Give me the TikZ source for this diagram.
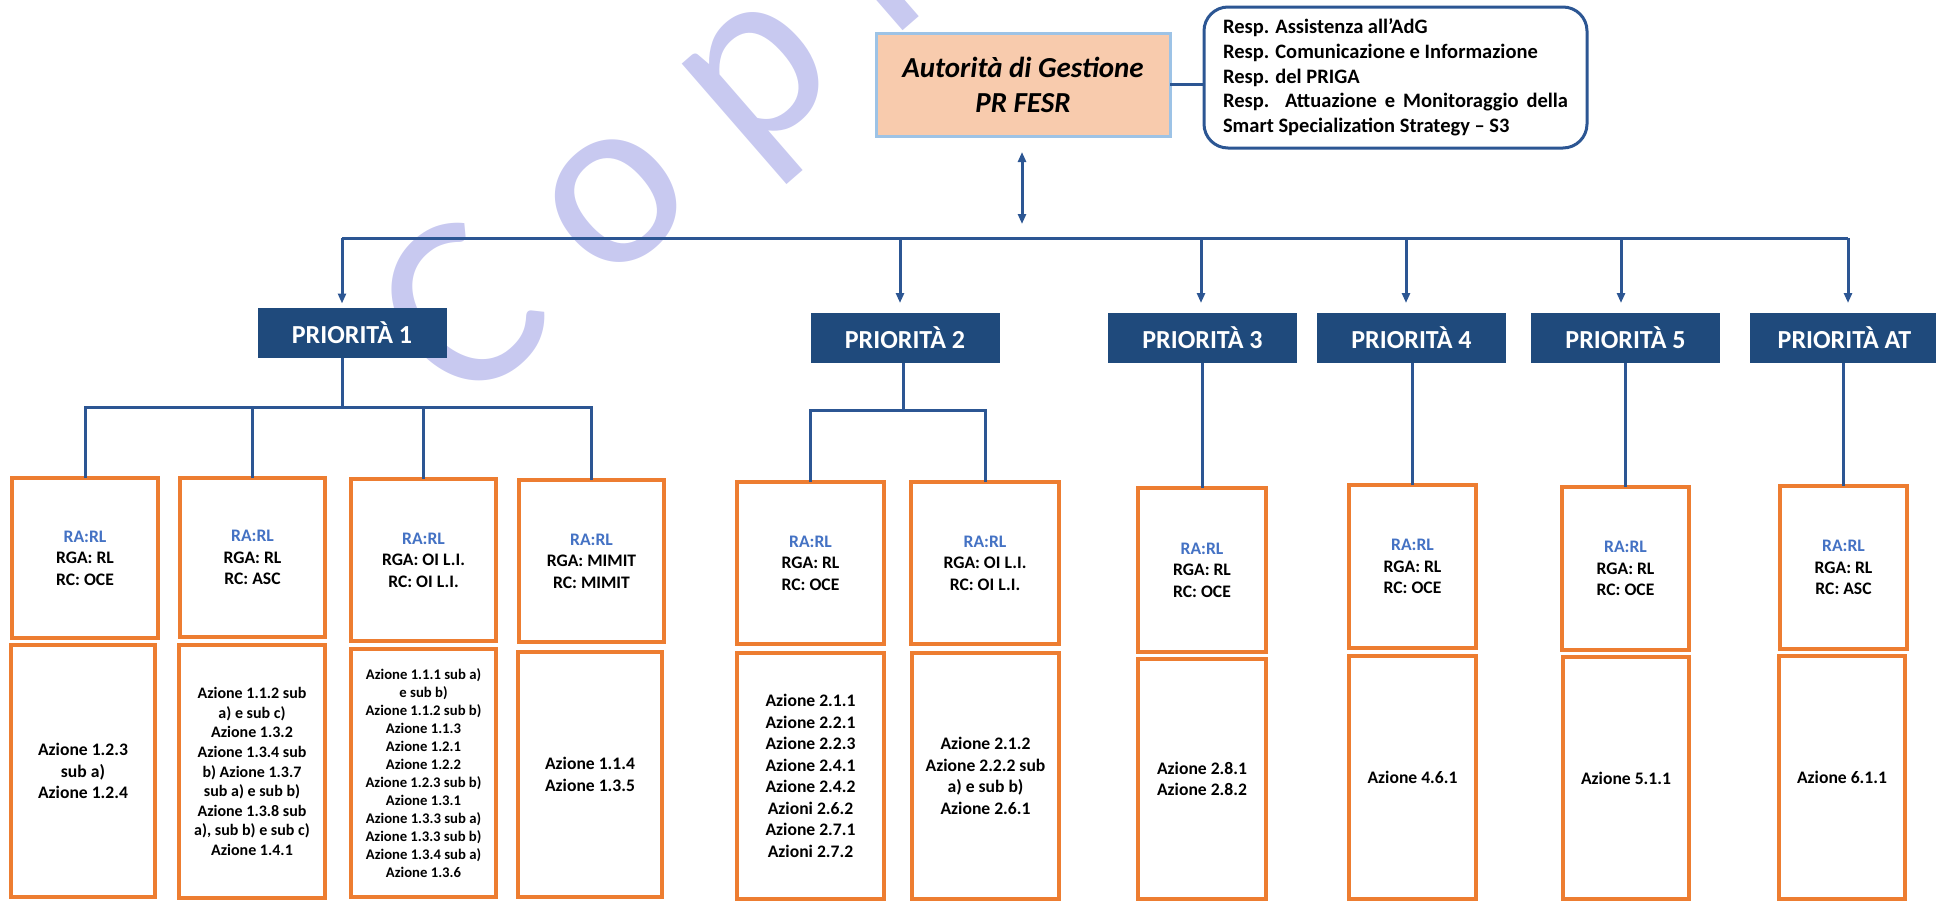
\documentclass[tikz,border=0pt]{standalone}
\usepackage{fontspec}
\setmainfont{Carlito}
\usetikzlibrary{arrows.meta}
\definecolor{navy}{HTML}{1F4A7C}
\definecolor{linkblue}{HTML}{2C5693}
\definecolor{orangeb}{HTML}{ED7D31}
\definecolor{peach}{HTML}{F8CBAD}
\definecolor{lightb}{HTML}{9DC3E6}
\definecolor{rablue}{HTML}{4472C4}
\definecolor{wm}{HTML}{C8C9F0}
\begin{document}
\begin{tikzpicture}[x=1pt,y=-1pt,
  conn/.style={draw=linkblue, line width=3pt},
  arr/.style={conn, -{Triangle[length=10pt,width=8pt]}},
  dblarr/.style={conn, {Triangle[length=10pt,width=8pt]}-{Triangle[length=10pt,width=8pt]}},
  prio/.style={fill=navy, text=white, font=\bfseries\fontsize{26}{30}\selectfont, minimum width=189pt, minimum height=50pt, inner sep=0pt, outer sep=0pt},
  obox/.style={draw=orangeb, line width=4pt, fill=white, align=center, inner sep=0pt, outer sep=0pt},
  ufont/.style={font=\bfseries\fontsize{17.6}{21.5}\selectfont},
  lfont/.style={font=\bfseries\fontsize{17.6}{21.5}\selectfont},
  mfont/.style={font=\bfseries\fontsize{16}{19.6}\selectfont},
  sfont/.style={font=\bfseries\fontsize{14.7}{18}\selectfont}
]
\useasboundingbox (0,0) rectangle (1936,902);

% watermark
\node[rotate=41, text=wm, font=\fontsize{250}{250}\selectfont, anchor=base west, inner sep=0pt] (wmk) at (462,414) {C o p i a};

% top
\node[fill=peach, draw=lightb, line width=3pt, minimum width=294pt, minimum height=103pt, inner sep=0pt, outer sep=0pt, align=center, font=\bfseries\itshape\fontsize{29}{35}\selectfont] (ag) at (1023,84.5) {Autorità di Gestione\\PR FESR};
\node[draw=linkblue, line width=3pt, rounded corners=24pt, minimum width=383pt, minimum height=141pt, inner sep=0pt, outer sep=0pt, font=\bfseries\fontsize{20.5}{24.75}\selectfont] (resp) at (1395.5,77.5) {\parbox{345pt}{\raggedright Resp. Assistenza all’AdG\\Resp. Comunicazione e Informazione\\Resp. del PRIGA\\\makebox[345pt][s]{Resp. Attuazione e Monitoraggio della}\\Smart Specialization Strategy – S3}};
\draw[conn] (ag.east) -- (ag.east -| resp.west);

\coordinate (dt) at (1022,152);
\coordinate (db) at (1022,224);
\draw[dblarr] (dt) -- (db);

% priority boxes
\node[prio] (p1) at (352,332.5) {PRIORITÀ 1};
\node[prio] (p2) at (905,338) {PRIORITÀ 2};
\node[prio] (p3) at (1202.5,338) {PRIORITÀ 3};
\node[prio] (p4) at (1411.5,338) {PRIORITÀ 4};
\node[prio] (p5) at (1625.5,338) {PRIORITÀ 5};
\node[prio] (pat) at (1844.5,338) {PRIORITÀ AT};

% bus
\coordinate (bl) at (342,238);
\coordinate (b2) at (900,238);
\coordinate (b3) at (1201,238);
\coordinate (b4) at (1406,238);
\coordinate (b5) at (1621,238);
\coordinate (br) at (1848,238);
\draw[conn] (bl) -- (br);
\draw[arr, shorten >=4pt] (bl) -- (bl |- p1.north);
\draw[arr, shorten >=10pt] (b2) -- (b2 |- p2.north);
\draw[arr, shorten >=10pt] (b3) -- (b3 |- p3.north);
\draw[arr, shorten >=10pt] (b4) -- (b4 |- p4.north);
\draw[arr, shorten >=10pt] (b5) -- (b5 |- p5.north);
\draw[arr, shorten >=10pt] (br) -- (br |- pat.north);

% upper boxes
\node[obox, ufont, minimum width=146pt, minimum height=160pt] (u1) at (85,558) {{\color{rablue}RA:RL}\\RGA: RL\\RC: OCE};
\node[obox, ufont, minimum width=145pt, minimum height=159pt] (u2) at (252.5,557.5) {{\color{rablue}RA:RL}\\RGA: RL\\RC: ASC};
\node[obox, ufont, minimum width=145pt, minimum height=162pt] (u3) at (423.5,560) {{\color{rablue}RA:RL}\\RGA: OI L.I.\\RC: OI L.I.};
\node[obox, ufont, minimum width=145pt, minimum height=162pt] (u4) at (591.5,561) {{\color{rablue}RA:RL}\\RGA: MIMIT\\RC: MIMIT};
\node[obox, ufont, minimum width=147pt, minimum height=162pt] (u5) at (810.5,563) {{\color{rablue}RA:RL}\\RGA: RL\\RC: OCE};
\node[obox, ufont, minimum width=148pt, minimum height=162pt] (u6) at (985,563) {{\color{rablue}RA:RL}\\RGA: OI L.I.\\RC: OI L.I.};
\node[obox, ufont, minimum width=128pt, minimum height=164pt] (u7) at (1202,570) {{\color{rablue}RA:RL}\\RGA: RL\\RC: OCE};
\node[obox, ufont, minimum width=127pt, minimum height=163pt] (u8) at (1412.5,566.5) {{\color{rablue}RA:RL}\\RGA: RL\\RC: OCE};
\node[obox, ufont, minimum width=127pt, minimum height=163pt] (u9) at (1625.5,568.5) {{\color{rablue}RA:RL}\\RGA: RL\\RC: OCE};
\node[obox, ufont, minimum width=127pt, minimum height=163pt] (u10) at (1843.5,567.5) {{\color{rablue}RA:RL}\\RGA: RL\\RC: ASC};

% lower boxes
\node[obox, lfont, minimum width=144pt, minimum height=252pt] (l1) at (83,771) {Azione 1.2.3\\sub a)\\Azione 1.2.4};
\node[obox, mfont, minimum width=146pt, minimum height=253pt] (l2) at (252,771.5) {Azione 1.1.2 sub\\a) e sub c)\\Azione 1.3.2\\Azione 1.3.4 sub\\b) Azione 1.3.7\\sub a) e sub b)\\Azione 1.3.8 sub\\a), sub b) e sub c)\\Azione 1.4.1};
\node[obox, sfont, minimum width=145pt, minimum height=248pt] (l3) at (423.5,773) {Azione 1.1.1 sub a)\\e sub b)\\Azione 1.1.2 sub b)\\Azione 1.1.3\\Azione 1.2.1\\Azione 1.2.2\\Azione 1.2.3 sub b)\\Azione 1.3.1\\Azione 1.3.3 sub a)\\Azione 1.3.3 sub b)\\Azione 1.3.4 sub a)\\Azione 1.3.6};
\node[obox, lfont, minimum width=144pt, minimum height=245pt] (l4) at (590,774.5) {Azione 1.1.4\\Azione 1.3.5};
\node[obox, lfont, minimum width=147pt, minimum height=246pt] (l5) at (810.5,776) {Azione 2.1.1\\Azione 2.2.1\\Azione 2.2.3\\Azione 2.4.1\\Azione 2.4.2\\Azioni 2.6.2\\Azione 2.7.1\\Azioni 2.7.2};
\node[obox, lfont, minimum width=147pt, minimum height=246pt] (l6) at (985.5,776) {Azione 2.1.2\\Azione 2.2.2 sub\\a) e sub b)\\Azione 2.6.1};
\node[obox, lfont, minimum width=128pt, minimum height=240pt] (l7) at (1202,779) {Azione 2.8.1\\Azione 2.8.2};
\node[obox, lfont, minimum width=127pt, minimum height=243pt] (l8) at (1412.5,777.5) {Azione 4.6.1};
\node[obox, lfont, minimum width=126pt, minimum height=242pt] (l9) at (1626,778) {Azione 5.1.1};
\node[obox, lfont, minimum width=126pt, minimum height=243pt] (l10) at (1842,777.5) {Azione 6.1.1};

% priority 1 tree
\coordinate (j1) at (342,407);
\draw[conn] (p1.south -| j1) -- (j1);
\draw[conn] (u1.north) |- (j1) -| (u4.north);
\draw[conn] (u2.north) -- (u2.north |- j1);
\draw[conn] (u3.north) -- (u3.north |- j1);
% priority 2 tree
\coordinate (j2) at (903,410);
\draw[conn] (p2.south -| j2) -- (j2);
\draw[conn] (u5.north) |- (j2) -| (u6.north);
% single drops
\draw[conn] (p3.south -| u7.north) -- (u7.north);
\draw[conn] (p4.south -| u8.north) -- (u8.north);
\draw[conn] (p5.south -| u9.north) -- (u9.north);
\draw[conn] (pat.south -| u10.north) -- (u10.north);
\end{tikzpicture}
\end{document}
